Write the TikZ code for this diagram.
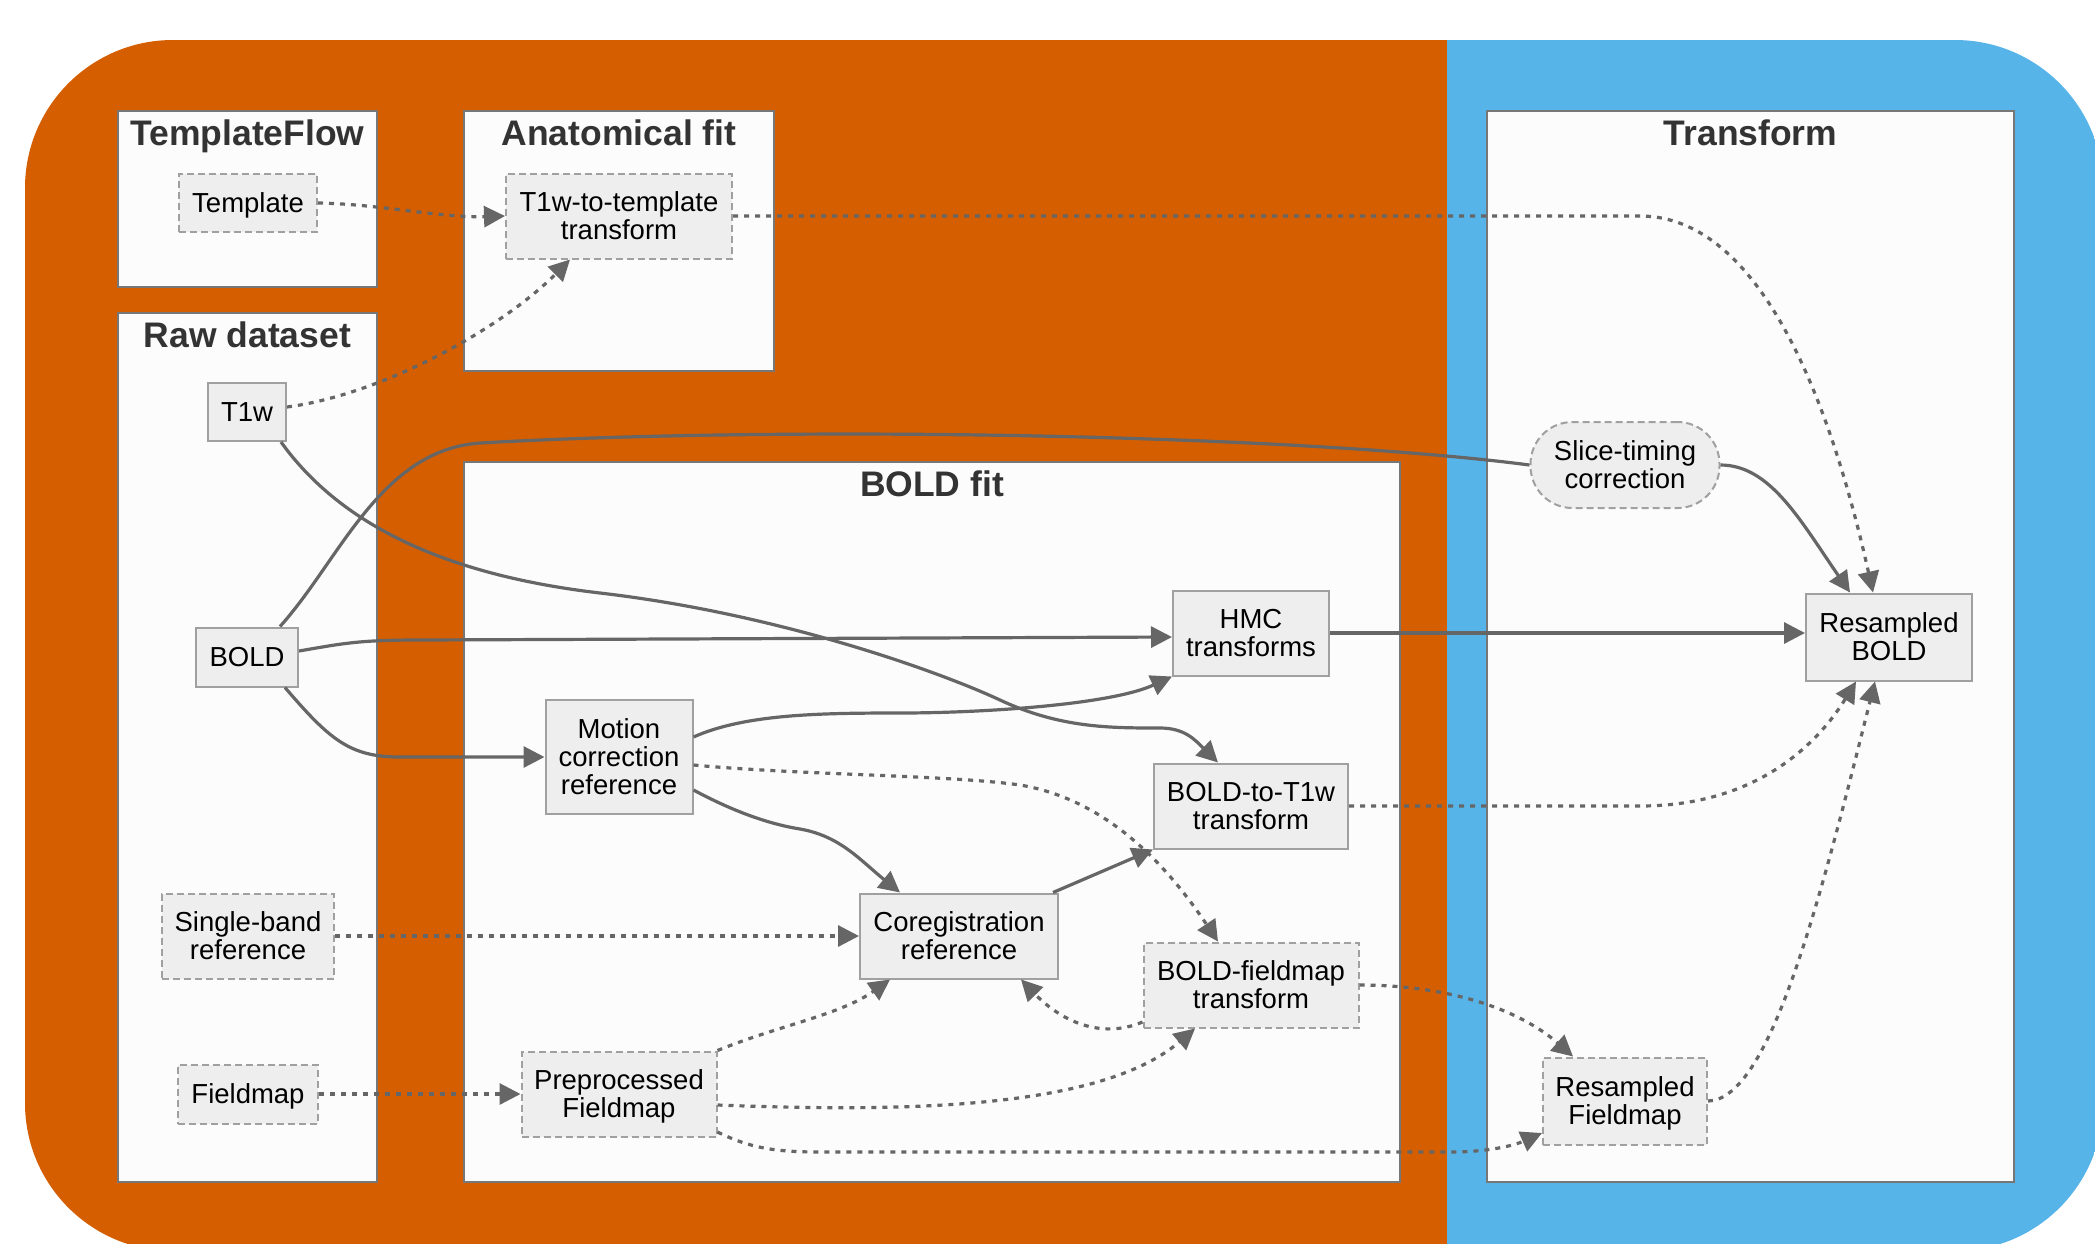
\documentclass[tikz,border=0pt]{standalone}
\usepackage{fontspec}
\setmainfont{Liberation Sans}
\usetikzlibrary{arrows.meta}

\definecolor{vermil}{HTML}{D55E00}
\definecolor{skyblue}{HTML}{56B4E9}
\definecolor{edgegray}{HTML}{666666}
\definecolor{boxfill}{HTML}{EEEEEE}
\definecolor{boxline}{HTML}{A0A0A0}
\definecolor{panelfill}{HTML}{FCFCFC}
\definecolor{panelline}{HTML}{777777}
\definecolor{titlegray}{HTML}{333333}

\tikzset{
  panelbox/.style={draw=panelline, line width=2.5pt, fill=panelfill, inner sep=0pt},
  paneltitle/.style={font=\fontsize{35.5}{40}\selectfont\bfseries, text=titlegray, anchor=base, inner sep=0pt},
  boxsolid/.style={draw=boxline, line width=2pt, fill=boxfill, align=center,
    font=\fontsize{27.5}{28}\selectfont, text=black, inner sep=0pt, text depth=-9pt},
  boxdash/.style={boxsolid, dash pattern=on 7pt off 4pt},
  edgeplain/.style={draw=edgegray, line width=3.2pt},
  edgesolid/.style={edgeplain, -{Triangle[length=21pt,width=21pt]}},
  edgedot/.style={edgesolid, dash pattern=on 5pt off 6pt},
}

\begin{document}
\begin{tikzpicture}[x=1pt, y=1pt]
\useasboundingbox (0,0) rectangle (2095,-1243);
\fill[white] (0,0) rectangle (2095,-1243);

% two-tone rounded background
\begin{scope}
  \clip (0,0) rectangle (2095,-1243);
  \clip[rounded corners=148pt] (25,-40) rectangle (2103,-1251);
  \fill[vermil] (0,0) rectangle (1447,-1300);
  \fill[skyblue] (1447,0) rectangle (2200,-1300);
\end{scope}

% panels
\node[panelbox, minimum width=259pt, minimum height=176pt] (pTF) at (247.5,-199) {};
\node[panelbox, minimum width=310pt, minimum height=260pt] (pAnat) at (619,-241) {};
\node[panelbox, minimum width=259pt, minimum height=869pt] (pRaw) at (247.5,-747.5) {};
\node[panelbox, minimum width=936pt, minimum height=720pt] (pBold) at (932,-822) {};
\node[panelbox, minimum width=527pt, minimum height=1071pt] (pXform) at (1750.5,-646.5) {};

\node[paneltitle] (tTF) at (247.5,-145) {TemplateFlow};
\node[paneltitle] (tAnat) at (619,-145) {Anatomical fit};
\node[paneltitle] (tRaw) at (247.5,-347) {Raw dataset};
\node[paneltitle] (tBold) at (932,-496) {BOLD fit};
\node[paneltitle] (tXform) at (1750.5,-145) {Transform};

% process boxes
\node[boxdash, minimum width=138pt, minimum height=58pt] (tpl) at (248,-203) {Template};
\node[boxdash, minimum width=226pt, minimum height=85pt] (t1tpl) at (619,-216) {T1w-to-template\\transform};
\node[boxsolid, minimum width=78pt, minimum height=58pt] (t1w) at (247,-412) {T1w};
\node[boxsolid, minimum width=102pt, minimum height=59pt] (bold) at (247,-657) {BOLD};
\node[boxsolid, minimum width=147pt, minimum height=114pt] (mcr) at (619,-757) {Motion\\correction\\reference};
\node[boxdash, minimum width=172pt, minimum height=85pt] (sbref) at (248,-936) {Single-band\\reference};
\node[boxdash, minimum width=140pt, minimum height=59pt] (fmap) at (248,-1094) {Fieldmap};
\node[boxdash, minimum width=195pt, minimum height=85pt] (prep) at (619,-1094) {Preprocessed\\Fieldmap};
\node[boxsolid, minimum width=156pt, minimum height=85pt] (hmc) at (1251,-633) {HMC\\transforms};
\node[boxsolid, minimum width=194pt, minimum height=85pt] (b2t) at (1251,-806) {BOLD-to-T1w\\transform};
\node[boxsolid, minimum width=198pt, minimum height=85pt] (coreg) at (959,-936) {Coregistration\\reference};
\node[boxdash, minimum width=215pt, minimum height=85pt] (bfm) at (1251,-985) {BOLD-fieldmap\\transform};
\node[boxdash, rounded corners=42pt, minimum width=189pt, minimum height=86pt] (stc) at (1625,-465) {Slice-timing\\correction};
\node[boxsolid, minimum width=166pt, minimum height=87pt] (rbold) at (1889,-637) {Resampled\\BOLD};
\node[boxdash, minimum width=164pt, minimum height=87pt] (rfm) at (1625,-1101) {Resampled\\Fieldmap};

% anatomical connections
\draw[edgedot] (tpl.east) .. controls (380,-204) and (440,-218) .. (t1tpl.west);
\draw[edgedot] ([yshift=5pt]t1w.east) .. controls (380,-395) and (500,-330) .. ([xshift=-49pt]t1tpl.south);
\draw[edgedot] (t1tpl.east) -- (1640,-216) .. controls (1760,-216) and (1830,-400) .. ([xshift=-16pt]rbold.north);

% BOLD to slice-timing and on to the resampled series
\draw[edgeplain] ([xshift=33pt]bold.north) .. controls (340,-560) and (380,-450) .. (480,-443)
  .. controls (800,-425) and (1300,-435) .. (stc.west);
\draw[edgesolid] (stc.east) .. controls (1770,-465) and (1800,-520) .. ([xshift=-39pt]rbold.north);

% BOLD fit
\draw[edgesolid] ([yshift=6pt]bold.east) .. controls (345,-643) and (360,-640) .. (420,-640) -- ([yshift=-4pt]hmc.west);
\draw[edgesolid] ([xshift=38pt]bold.south) .. controls (330,-740) and (350,-757) .. (400,-757) -- (mcr.west);
\draw[edgesolid] ([yshift=20pt]mcr.east) .. controls (745,-714) and (820,-713) .. (900,-713)
  .. controls (980,-713) and (1110,-705) .. (hmc.south west);
\draw[edgesolid] ([xshift=34pt]t1w.south) .. controls (330,-510) and (420,-572) .. (600,-593)
  .. controls (780,-614) and (940,-672) .. (1000,-700)
  .. controls (1060,-728) and (1110,-728) .. (1160,-728)
  .. controls (1185,-728) and (1195,-740) .. ([xshift=-33pt]b2t.north);
\draw[edgesolid] ([yshift=-33pt]mcr.east) .. controls (740,-815) and (775,-825) .. (800,-829)
  .. controls (840,-836) and (860,-860) .. ([xshift=-59pt]coreg.north);
\draw[edgedot] ([yshift=-8pt]mcr.east) .. controls (800,-775) and (950,-775) .. (1020,-785)
  .. controls (1110,-800) and (1170,-870) .. ([xshift=-33pt]bfm.north);
\draw[edgedot] (sbref.east) -- (coreg.west);
\draw[edgesolid] ([xshift=94pt]coreg.north) -- (b2t.south west);
\draw[edgedot] ([yshift=-37pt]bfm.west) .. controls (1100,-1040) and (1060,-1020) .. ([xshift=62pt]coreg.south);
\draw[edgedot] (fmap.east) -- (prep.west);
\draw[edgedot] (prep.north east) .. controls (780,-1025) and (840,-1015) .. ([xshift=-69pt]coreg.south);
\draw[edgedot] ([yshift=-11pt]prep.east) .. controls (900,-1112) and (1100,-1110) .. ([xshift=-56pt]bfm.south);

% transform stage
\draw[edgedot] ([yshift=-38pt]prep.east) .. controls (750,-1148) and (775,-1152) .. (820,-1152)
  -- (1450,-1152) .. controls (1490,-1152) and (1515,-1145) .. ([yshift=-32pt]rfm.west);
\draw[edgedot] (bfm.east) .. controls (1450,-985) and (1520,-1010) .. ([xshift=-52pt]rfm.north);
\draw[edgedot] (b2t.east) -- (1640,-806) .. controls (1760,-806) and (1820,-740) .. ([xshift=-33pt]rbold.south);
\draw[edgesolid] (hmc.east) -- (hmc.east -| rbold.west);
\draw[edgedot] (rfm.east) .. controls (1770,-1100) and (1820,-900) .. ([xshift=-14pt]rbold.south);
\end{tikzpicture}
\end{document}
